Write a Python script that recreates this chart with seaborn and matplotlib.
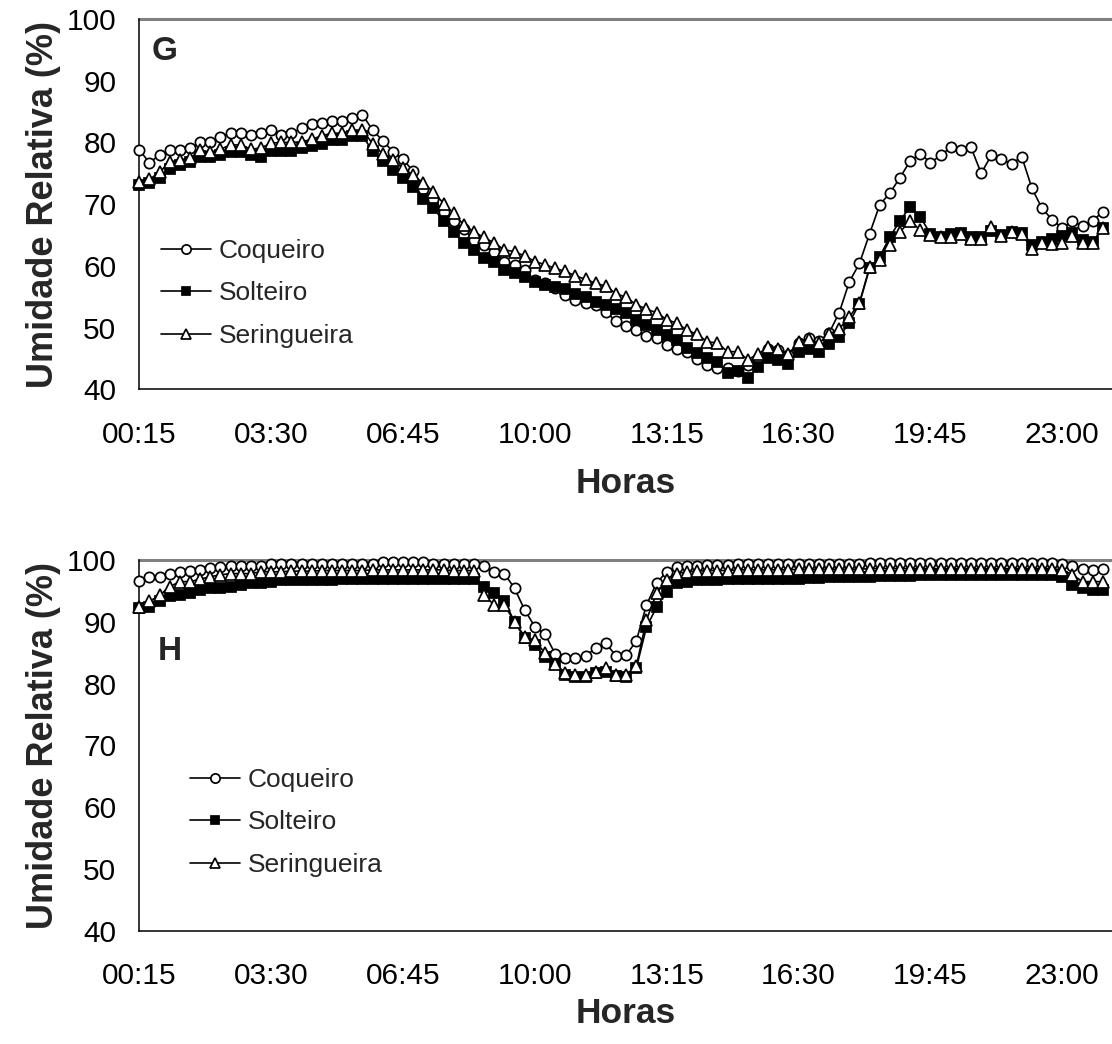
import numpy as np
import pandas as pd
import matplotlib
matplotlib.use("Agg")
import matplotlib.pyplot as plt
import seaborn as sns

sns.set_theme(style="white")
plt.rcParams["font.family"] = ["Liberation Sans", "DejaVu Sans"]

# 15-minute readings from 00:15 to 24:00 (96 per series)
tick_labels = ["00:15", "03:30", "06:45", "10:00", "13:15", "16:30", "19:45", "23:00"]
tick_step = 13

coqueiro_g = [78.8, 76.7, 78.0, 78.8, 78.8, 79.1, 80.0, 80.1, 80.9, 81.5, 81.5, 81.2, 81.5, 82.0, 81.2, 81.5,
              82.3, 83.0, 83.2, 83.5, 83.5, 83.9, 84.5, 82.0, 80.3, 78.5, 77.3,
              75.3, 72.4, 70.8, 68.8, 67.2, 66.0, 64.2, 63.4, 62.3, 60.7, 60.2, 59.3, 57.7, 57.2, 56.4, 55.3,
              54.5, 54.0, 53.6,
              52.6, 51.0, 50.2, 49.6, 48.6, 48.3, 47.2, 46.6, 46.0, 44.9, 44.0, 43.5, 43.4, 43.0,
              44.0, 45.0, 46.5, 46.3, 45.5, 47.5, 48.3, 47.8, 49.1,
              52.4, 57.4, 60.4, 65.2, 69.9, 71.8, 74.3, 77.0, 78.2, 76.7, 77.9, 79.2, 78.8, 79.2, 75.0, 77.9,
              77.3, 76.5, 77.7, 72.6, 69.3, 67.5, 66.1, 67.3, 66.4, 67.3, 68.8]
solteiro_g = [73.1, 73.4, 74.2, 75.7, 76.4, 76.8, 77.7, 77.7, 78.0, 78.4, 78.4, 78.0, 77.7, 78.6, 78.6, 78.6,
              79.1, 79.4, 79.8, 80.4, 80.4, 81.1, 81.1, 78.6, 77.0, 75.5, 74.3, 72.8, 70.8,
              69.3, 67.3, 65.5, 63.7, 62.6, 61.2, 60.7, 59.3, 58.8, 58.2, 57.4, 56.9, 56.5, 56.2, 55.4, 55.0,
              54.2, 53.7, 53.0, 52.3, 51.3, 50.4, 49.6, 48.8, 48.0, 46.7, 45.9, 45.0, 44.5, 42.7, 42.9,
              41.8, 43.6, 45.0, 44.8, 44.1, 46.1, 46.6, 46.1, 47.4, 48.5, 50.8, 53.9, 59.6, 61.5, 64.7, 67.3,
              69.6, 67.9, 65.2, 64.7, 65.2, 65.4, 64.7, 64.7, 65.7, 65.0, 65.5, 65.4, 63.4, 63.9, 64.3, 64.8,
              65.3, 64.2, 63.9, 66.2]
seringueira_g = [73.6, 74.0, 75.2, 76.8, 77.2, 77.4, 78.8, 78.4, 78.9, 79.6, 79.6, 78.9, 79.1, 79.9, 80.0, 80.0,
                 80.1, 80.5, 81.1, 81.5, 81.5, 82.0, 82.0, 79.8, 78.1, 77.2, 75.8, 74.7, 73.4,
                 72.0, 70.1, 68.5, 66.6, 65.5, 64.6, 63.7, 62.6, 62.3, 61.6, 60.7, 60.2, 59.6, 59.1, 58.4, 57.8,
                 57.2, 56.7, 55.5, 54.9, 53.7, 53.0, 52.4, 51.3, 50.7, 49.6, 48.9, 47.7, 47.5, 46.1, 46.1,
                 44.8, 45.7, 46.9, 46.5, 45.7, 47.7, 48.1, 47.5, 48.9, 49.8, 51.7, 54.0, 59.8, 60.9, 63.4, 65.5,
                 67.3, 65.8, 65.0, 64.6, 64.6, 65.2, 64.3, 64.3, 66.3, 64.8, 65.5, 65.2, 62.8, 63.7, 63.5, 63.7,
                 64.8, 63.7, 63.7, 66.1]

coqueiro_h = [96.6, 97.2, 97.2, 97.8, 98.1, 98.3, 98.4, 98.7, 98.8, 99.0, 99.0, 99.0, 99.0,
              99.4, 99.4, 99.4, 99.4, 99.4, 99.4, 99.4, 99.4, 99.4, 99.4, 99.4, 99.7, 99.6, 99.6, 99.6, 99.6,
              99.4, 99.4, 99.4, 99.4, 99.4,
              99.0, 98.1, 97.8, 95.4, 91.9, 89.2, 88.0, 84.8, 84.1, 84.1, 84.5, 85.7, 86.5, 84.5, 84.6, 86.9,
              92.7, 96.3, 98.1, 98.9,
              99.0, 99.1, 99.2, 99.2, 99.2, 99.3, 99.3, 99.3, 99.3, 99.3, 99.3, 99.3, 99.3, 99.3,
              99.4, 99.4, 99.4, 99.4, 99.5, 99.5, 99.5, 99.5, 99.5, 99.5, 99.5, 99.5, 99.5, 99.5,
              99.5, 99.5, 99.5, 99.5, 99.5, 99.5, 99.5, 99.5, 99.5,
              99.4, 99.0, 98.5, 98.4, 98.5]
solteiro_h = [92.2, 92.4, 93.3, 94.1, 94.3, 94.6, 95.1, 95.4, 95.4, 95.7, 96.0, 96.2, 96.2, 96.5, 96.7, 96.7,
              96.7, 96.8, 96.8, 96.8, 96.9, 96.9, 96.9, 96.9, 97.0, 97.0, 97.0, 97.0, 97.0, 97.0, 97.0, 97.0,
              97.0, 97.0,
              95.7, 94.6, 93.3, 90.0, 87.3, 86.2, 84.3, 83.2, 81.4, 81.1, 81.0, 81.7, 81.9, 81.2, 81.1, 82.5,
              89.1, 92.4, 94.9, 96.2,
              96.5, 96.7, 96.8, 96.8, 96.9, 96.9, 97.0, 97.0, 97.0, 97.0, 97.0, 97.0, 97.1, 97.1, 97.2, 97.2,
              97.3, 97.3, 97.3, 97.4, 97.4, 97.4, 97.4, 97.5, 97.5, 97.5, 97.5, 97.5, 97.5, 97.5, 97.5, 97.5,
              97.5, 97.5, 97.5, 97.5, 97.5,
              97.3, 96.0, 95.4, 95.1, 95.1]
seringueira_h = [92.4, 93.3, 94.3, 95.7, 96.5, 96.5, 96.9, 97.3, 97.6, 97.8, 97.8, 97.8, 98.1, 98.1, 98.1, 98.2,
                 98.2, 98.2, 98.3, 98.3, 98.3, 98.3, 98.3, 98.4, 98.4, 98.4, 98.4, 98.4, 98.4, 98.4, 98.4, 98.3,
                 98.3, 98.3,
                 94.3, 92.7, 92.7, 90.0, 87.6, 87.0, 84.9, 83.2, 81.7, 81.4, 81.4, 81.9, 82.6, 81.4, 81.4, 82.8,
                 90.3, 94.6, 96.8, 97.8,
                 98.1, 98.2, 98.3, 98.3, 98.3, 98.4, 98.4, 98.4, 98.4, 98.4, 98.4, 98.5, 98.5, 98.5, 98.5, 98.5,
                 98.5, 98.5, 98.6, 98.6, 98.6, 98.6, 98.6, 98.6, 98.6, 98.6, 98.6, 98.6, 98.6, 98.6, 98.6, 98.6,
                 98.6, 98.6, 98.6, 98.6, 98.6,
                 98.4, 97.6, 96.5, 96.5, 96.5]

series_names = ["Coqueiro", "Solteiro", "Seringueira"]
styles = {
    "Coqueiro": dict(marker="o", markerfacecolor="white", markersize=7.4),
    "Solteiro": dict(marker="s", markerfacecolor="black", markersize=7.0),
    "Seringueira": dict(marker="^", markerfacecolor="white", markersize=8.4),
}

W, H = 1112, 1044
fig = plt.figure(figsize=(W / 100, H / 100), dpi=100)


def px_rect(left, top, right, bottom):
    return [left / W, 1 - bottom / H, (right - left) / W, (bottom - top) / H]


def draw_panel(rect, values, letter, letter_xy, legend_xy, xlabel_pad):
    ax = fig.add_axes(rect)
    n = len(values[0])
    for name, vals in zip(series_names, values):
        df = pd.DataFrame({"idx": np.arange(n), "ur": vals})
        sns.lineplot(data=df, x="idx", y="ur", ax=ax, color="black", linewidth=1.2,
                     markeredgecolor="black", markeredgewidth=1.25, label=name,
                     clip_on=False, zorder=3, **styles[name])
    ax.set_xlim(0, 95.9)
    ax.set_ylim(40, 100)
    ax.set_yticks(np.arange(40, 101, 10))
    ax.set_xticks(np.arange(len(tick_labels)) * tick_step)
    ax.set_xticklabels(tick_labels)
    ax.tick_params(axis="both", direction="out", length=6.5, width=1, colors="black",
                   labelsize=21.5)
    ax.tick_params(axis="x", pad=16)
    ax.tick_params(axis="y", pad=10)
    for s in ["top", "right"]:
        ax.spines[s].set_visible(False)
    for s in ["left", "bottom"]:
        ax.spines[s].set_color("black")
        ax.spines[s].set_linewidth(1.1)
    ax.axhline(100, color="#808080", linewidth=2.2, zorder=1, clip_on=False)
    ax.grid(False)
    ax.set_xlabel("Horas", fontsize=25.5, fontweight="bold", labelpad=xlabel_pad)
    ax.set_ylabel("Umidade Relativa (%)", fontsize=26, fontweight="bold")
    ax.yaxis.set_label_coords(-0.081, 0.5)
    ax.text(letter_xy[0] / W, 1 - letter_xy[1] / H, letter, transform=fig.transFigure,
            fontsize=24, fontweight="bold", ha="left", va="center")
    ax.legend(loc="upper left", bbox_to_anchor=(legend_xy[0] / W, 1 - legend_xy[1] / H),
              bbox_transform=fig.transFigure, frameon=False, fontsize=19,
              handlelength=1.9, handletextpad=0.3, labelspacing=0.70,
              borderpad=0, borderaxespad=0, markerscale=0.9)
    return ax


draw_panel(px_rect(139.3, 19, 1112, 389.3), [coqueiro_g, solteiro_g, seringueira_g],
           "G", (152, 51), (161, 239), 13)
draw_panel(px_rect(139.3, 560, 1112, 930.7), [coqueiro_h, solteiro_h, seringueira_h],
           "H", (158, 651), (190, 768), 5)

fig.savefig("out.png", dpi=100)
